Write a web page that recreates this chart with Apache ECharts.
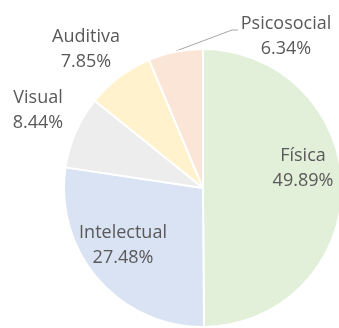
<!DOCTYPE html>
<html><head><meta charset="utf-8">
<script src="https://cdn.jsdelivr.net/npm/echarts@6/dist/echarts.min.js"></script>
<style>html,body{margin:0;padding:0;background:#fff}#c{width:339px;height:328px}</style>
</head><body><div id="c"></div>
<script>
var categories = ['Física', 'Intelectual', 'Visual', 'Auditiva', 'Psicosocial'];
var values = [49.89, 27.48, 8.44, 7.85, 6.34];
var colors = ['#e2efd9', '#dae3f3', '#ededed', '#fff2cc', '#fbe5d6'];

var labelPos = [[303, 168], [123, 245], [38, 110], [86, 49], [286, 36]];

var chart = echarts.init(document.getElementById('c'), null, {renderer: 'canvas'});
chart.setOption({
  animation: false,
  series: [{
    type: 'pie',
    center: [203, 188],
    radius: 139,
    startAngle: 90,
    clockwise: true,
    avoidLabelOverlap: false,
    itemStyle: {borderColor: '#fff', borderWidth: 2},
    label: {
      show: true,
      position: 'outside',
      formatter: function (p) { return p.name + '\n' + p.value.toFixed(2) + '%'; },
      color: '#595959',
      fontFamily: 'Open Sans',
      fontSize: 18,
      lineHeight: 25,
      overflow: 'none'
    },
    labelLine: {show: false},
    data: categories.map(function (n, i) {
      var d = {name: n, value: values[i], itemStyle: {color: colors[i]}};
      if (i === 4) {
        d.labelLine = {show: true, lineStyle: {color: '#a6a6a6', width: 1}};
      }
      return d;
    }),
    labelLayout: function (p) {
      var pos = labelPos[p.dataIndex];
      var r = {x: pos[0], y: pos[1], align: 'center', verticalAlign: 'middle'};
      if (p.dataIndex === 4) {
        r.labelLinePoints = [[176, 51], [232, 30], [238, 30]];
      }
      return r;
    }
  }]
});
</script></body></html>
